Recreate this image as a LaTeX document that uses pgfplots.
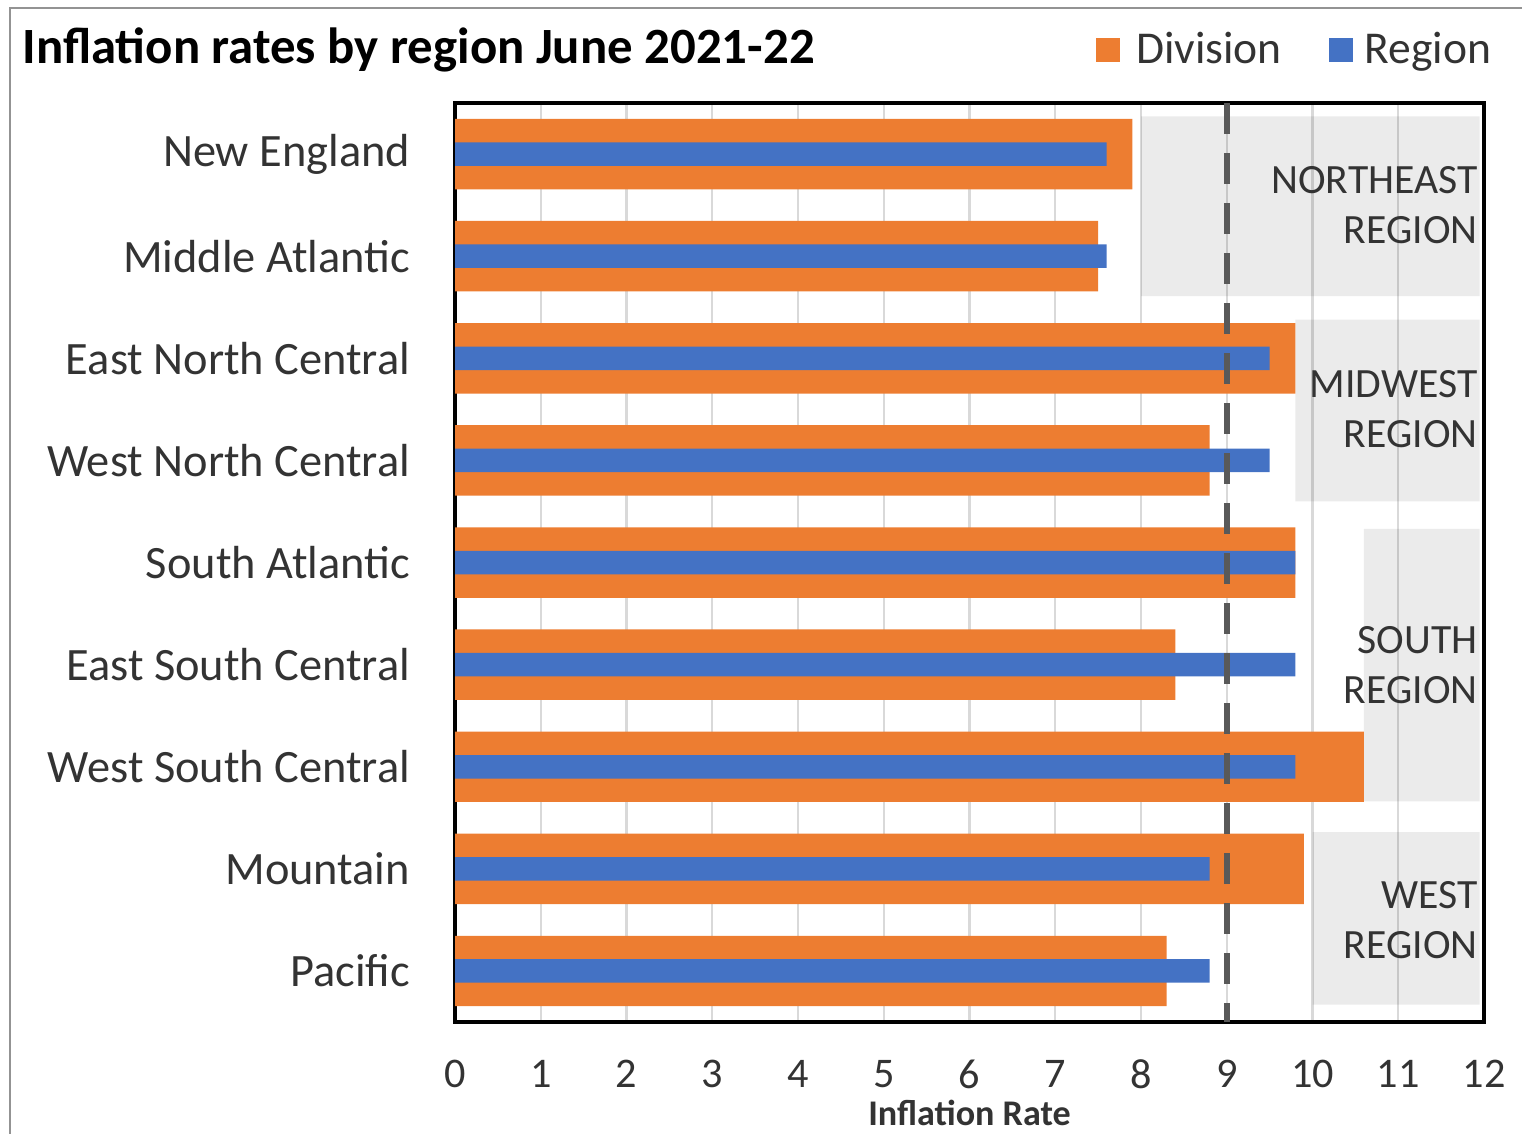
\documentclass[border=0pt]{standalone}
\usepackage{pgfplots}
\pgfplotsset{compat=1.18}
\usepackage{fontspec}
\setmainfont{Carlito}
\definecolor{divorange}{HTML}{ED7D31}
\definecolor{regblue}{HTML}{4472C4}
\definecolor{gridgray}{HTML}{D9D9D9}
\definecolor{txtgray}{HTML}{333333}
\def\u{0.36pt}
\begin{document}
\begin{tikzpicture}
\useasboundingbox (0,0) rectangle ({1522*\u},{-1133*\u});
\draw[color=gray!85, line width=1pt] ({10*\u},{-1140*\u}) -- ({10*\u},{-8*\u}) -- ({1530*\u},{-8*\u});
\node[anchor=base west, inner sep=0pt, text=black, font=\bfseries\fontsize{18.3}{22}\selectfont] at ({22*\u},{-63*\u}) {Inflation rates by region June 2021-22};
\begin{axis}[
  at={({455*\u},{-1022*\u})}, anchor=south west,
  scale only axis, width={1029*\u}, height={919*\u},
  xmin=0, xmax=12, ymin=-0.5, ymax=8.5,
  y dir=reverse,
  xtick={0,...,12},
  ytick={0,...,8},
  yticklabels={New England,Middle Atlantic,East North Central,West North Central,South Atlantic,East South Central,West South Central,Mountain,Pacific},
  major tick length=0pt,
  xmajorgrids, ymajorgrids=false,
  grid style={color=gridgray, line width=0.8pt},
  axis line style={line width=1.2pt, black},
  /pgf/number format/assume math mode=true,
  tick label style={text=txtgray},
  yticklabel style={inner sep=0pt, xshift=-16pt, font=\fontsize{16.7}{20}\selectfont},
  xticklabel style={inner sep=0pt, anchor=north, yshift=-13.5pt, font=\fontsize{15.2}{18}\selectfont},
  xlabel={Inflation Rate},
  xlabel style={at={(axis description cs:0.5,0)}, anchor=north, inner sep=0pt, yshift=-28pt, font=\bfseries\fontsize{13}{15}\selectfont, text=txtgray},
  legend style={at={(axis description cs:0.614,1.058)}, anchor=west, draw=none, fill=none,
    font=\fontsize{16.4}{20}\selectfont, text=txtgray, legend columns=2,
    /tikz/every even column/.append style={column sep=14.8pt}},
  legend cell align=left,
  clip=false,
]
% region backgrounds
\addplot[fill=black, fill opacity=0.08, draw=none, forget plot] coordinates {(8,-0.37) (11.95,-0.37) (11.95,1.39) (8,1.39) (8,-0.37)};
\addplot[fill=black, fill opacity=0.08, draw=none, forget plot] coordinates {(9.8,1.62) (11.95,1.62) (11.95,3.4) (9.8,3.4) (9.8,1.62)};
\addplot[fill=black, fill opacity=0.08, draw=none, forget plot] coordinates {(10.6,3.67) (11.95,3.67) (11.95,6.34) (10.6,6.34) (10.6,3.67)};
\addplot[fill=black, fill opacity=0.08, draw=none, forget plot] coordinates {(10.0,6.64) (11.95,6.64) (11.95,8.33) (10.0,8.33) (10.0,6.64)};
% Division
\addplot[xbar, bar width=0.69, bar shift=0pt, fill=divorange, draw=none,
  legend image code/.code={\fill[divorange] (0pt,-4.3pt) rectangle (8.6pt,4.3pt); \path (12.6pt,0pt);}]
  coordinates {(7.9,0) (7.5,1) (9.8,2) (8.8,3) (9.8,4) (8.4,5) (10.6,6) (9.9,7) (8.3,8)};
\addlegendentry{Division}
% Region
\addplot[xbar, bar width=0.23, bar shift=0pt, fill=regblue, draw=none,
  legend image code/.code={\fill[regblue] (0pt,-4.3pt) rectangle (8.6pt,4.3pt); \path (11pt,0pt);}]
  coordinates {(7.6,0) (7.6,1) (9.5,2) (9.5,3) (9.8,4) (9.8,5) (9.8,6) (8.8,7) (8.8,8)};
\addlegendentry{Region}
% 9% reference line
\addplot[color=black!65, line width=2.2pt, dash pattern=on 11pt off 7pt, forget plot] coordinates {(9,-0.5) (9,8.5)};
% region labels
\node[anchor=east, align=right, inner sep=0pt, text=txtgray, font=\fontsize{15}{18}\selectfont] at (axis cs:11.93,0.5) {NORTHEAST\\REGION};
\node[anchor=east, align=right, inner sep=0pt, text=txtgray, font=\fontsize{15}{18}\selectfont] at (axis cs:11.93,2.5) {MIDWEST\\REGION};
\node[anchor=east, align=right, inner sep=0pt, text=txtgray, font=\fontsize{15}{18}\selectfont] at (axis cs:11.93,5.0) {SOUTH\\REGION};
\node[anchor=east, align=right, inner sep=0pt, text=txtgray, font=\fontsize{15}{18}\selectfont] at (axis cs:11.93,7.5) {WEST\\REGION};
\end{axis}
\end{tikzpicture}
\end{document}
